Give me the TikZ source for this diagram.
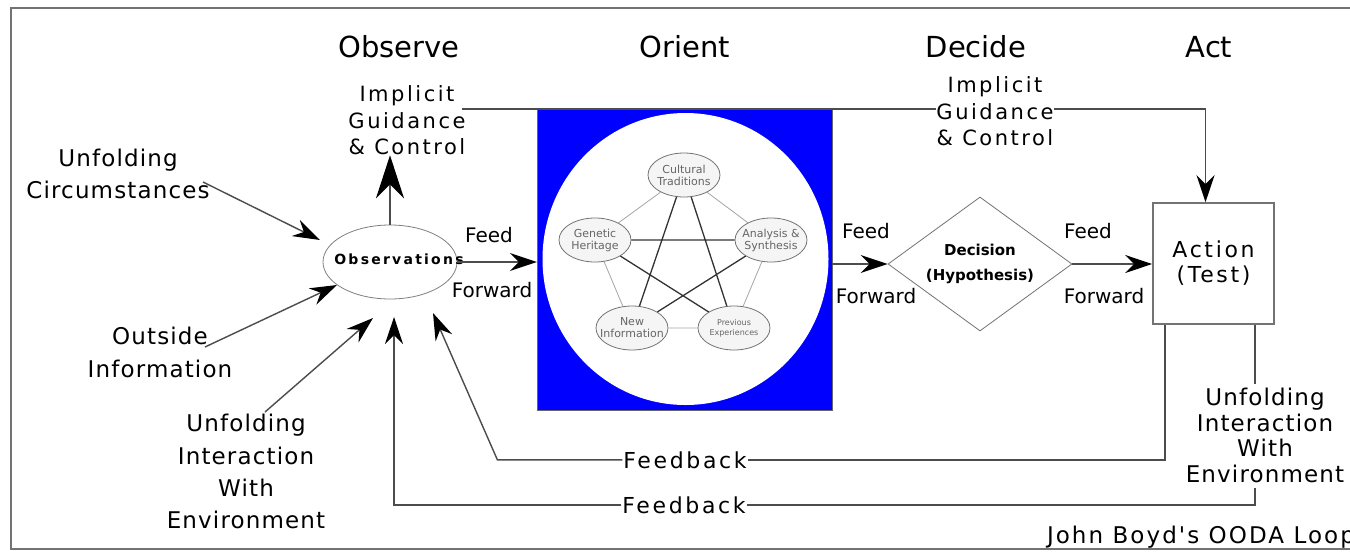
\documentclass[tikz,border=0pt]{standalone}
\usepackage{fontspec}
\setmainfont{DejaVu Sans}
\newfontfamily\wideA[LetterSpace=12]{DejaVu Sans}
\newfontfamily\wideB[LetterSpace=5]{DejaVu Sans}
\newfontfamily\wideC[LetterSpace=16]{DejaVu Sans}
\newfontfamily\wideD[LetterSpace=9]{DejaVu Sans}
\usetikzlibrary{arrows.meta,shapes.geometric,calc}

\begin{document}
\begin{tikzpicture}[x=1pt,y=-1pt,
  lbl/.style={inner sep=0pt, outer sep=0pt, align=center},
  head/.style={lbl, anchor=base, font=\fontsize{29}{34}\selectfont},
  ff/.style={lbl, anchor=base, font=\fontsize{20}{24}\selectfont},
  note/.style={lbl, anchor=north, font=\wideB\fontsize{23}{32}\selectfont},
  guide/.style={lbl, anchor=north, font=\wideA\fontsize{21}{26.5}\selectfont},
  fback/.style={lbl, inner xsep=1pt, anchor=base, font=\wideA\fontsize{22}{26}\selectfont},
  flow/.style={draw=black!70, line width=1.4pt},
  tip/.style={-{Stealth[length=27pt,width=18pt,inset=9pt,color=black]}},
  bigtip/.style={-{Stealth[length=43pt,width=28pt,inset=14pt,color=black]}},
  facet/.style={ellipse, draw=black!55, fill=black!4, line width=0.8pt,
    minimum width=72pt, minimum height=44pt, inner sep=0pt},
  facettext/.style={align=center, text=black!60, inner sep=0pt,
    font=\fontsize{11}{12}\selectfont},
  star/.style={draw=black!80, line width=1.3pt},
  rim/.style={draw=black!35, line width=0.8pt}
]
\useasboundingbox (0,0) rectangle (1350,552);
\fill[white] (0,0) rectangle (1350,552);
\draw[draw=black!55, line width=1.5pt] (11,8) rectangle (1365,549);

% phase headings
\node[head] (hObs) at (399,57) {Observe};
\node[head] (hOri) at (685,57) {Orient};
\node[head] (hDec) at (976,57) {Decide};
\node[head] (hAct) at (1209,57) {Act};

% Orient block
\node[draw=black!60, fill=blue, minimum width=295pt, minimum height=301pt,
  inner sep=0pt] (orient) at (684.5,259.5) {};
\node[ellipse, fill=white, minimum width=286pt, minimum height=292pt,
  inner sep=0pt] (disk) at (685.5,259) {};
\node[facet, label={[facettext]center:Cultural\\Traditions}] (ct) at (684,175) {};
\node[facet, label={[facettext]center:Genetic\\Heritage}] (gh) at (595,240) {};
\node[facet, label={[facettext]center:Analysis \&\\Synthesis}] (as) at (771,240) {};
\node[facet, label={[facettext]center:New\\Information}] (ni) at (632,328) {};
\node[facet, label={[facettext, font=\fontsize{8}{10}\selectfont]center:Previous\\Experiences}] (pe) at (734,328) {};
\draw[rim] (ct) -- (gh) (ct) -- (as) (gh) -- (ni) (as) -- (pe) (ni) -- (pe);
\draw[star] (ct) -- (ni) (ct) -- (pe) (gh) -- (as) (gh) -- (pe) (as) -- (ni);

% Observe
\node[ellipse, draw=black!50, line width=0.8pt, minimum width=134pt,
  minimum height=74pt, inner sep=0pt] (obs) at (390,262) {};
\node[lbl, font=\wideC\bfseries\fontsize{14}{16}\selectfont] (obsT) at (399,259) {Observations};

\node[guide] (igL) at (407,86) {Implicit\\Guidance\\\& Control};
\draw[flow, bigtip] (obs.north) -- (obs.north |- igL.south);

% Decide and Act
\node[diamond, draw=black!55, line width=0.8pt, aspect=1.373, minimum width=184pt,
  minimum height=134pt, inner sep=0pt, align=center,
  font=\bfseries\fontsize{15}{25}\selectfont] (dec) at (980,264) {Decision\\(Hypothesis)};
\node[draw=black!55, line width=1.6pt, minimum width=121pt, minimum height=121pt,
  inner sep=0pt, align=center, font=\wideA\fontsize{22}{25}\selectfont]
  (action) at (1213.5,263.5) {Action\\(Test)};

% implicit guidance line to Act
\coordinate (gStart) at (462,109);
\draw[flow, tip] (gStart) -| ([xshift=-8pt]action.north);
\node[guide, fill=white] (igR) at (995,77) {Implicit\\Guidance\\\& Control};

% feed forward
\node[ff] (feed1) at (489,242) {Feed};
\node[ff] (fwd1) at (492,297) {Forward};
\node[ff] (feed2) at (866,238) {Feed};
\node[ff] (fwd2) at (876,303) {Forward};
\node[ff] (feed3) at (1088,238) {Feed};
\node[ff] (fwd3) at (1104,303) {Forward};
\draw[flow, tip] (obs.east) -- (orient.west |- obs.east);
\draw[flow, tip] (orient.east |- dec.west) -- (dec.west);
\draw[flow, tip] (dec.east) -- (action.west |- dec.east);

% inputs to observations
\node[note] (ucT) at (118,149.5) {Unfolding\\Circumstances};
\node[note, font=\wideB\fontsize{23}{33}\selectfont] (oiT) at (160,327.5) {Outside\\Information};
\node[note, font=\wideB\fontsize{23}{32.3}\selectfont] (uieL) at (246,414.5) {Unfolding\\Interaction\\With\\Environment};
\coordinate (ucFrom) at (203,182);
\coordinate (ucTip) at (320,240);
\coordinate (oiFrom) at (205,347);
\coordinate (oiTip) at (337,285);
\coordinate (uiFrom) at (265,412);
\coordinate (uiTip) at (373,318);
\draw[flow, tip] (ucFrom) -- (ucTip);
\draw[flow, tip] (oiFrom) -- (oiTip);
\draw[flow, tip] (uiFrom) -- (uiTip);

% feedback loops
\node[fback] (fb1) at (685,468) {Feedback};
\node[fback] (fb2) at (684,513) {Feedback};
\node[note, font=\wideB\fontsize{23}{25.5}\selectfont] (uieR) at (1265,388.5) {Unfolding\\Interaction\\With\\Environment};
\coordinate (fbTip1) at (433,313);
\coordinate (fbTip2) at (394,317);
\draw[flow] ([xshift=-48.5pt]action.south) |- (fb1.east);
\draw[flow, tip] (fb1.west) -- ++(-125,0) -- (fbTip1);
\draw[flow] ([xshift=41.5pt]action.south) -- ($(uieR.north)+(-10,-5)$);
\draw[flow] ($(uieR.south)+(-10,5)$) |- (fb2.east);
\draw[flow, tip] (fb2.west) -| (fbTip2);

\node[lbl, anchor=base west, font=\wideD\fontsize{23}{26}\selectfont] (title) at (1047,543) {John Boyd's OODA Loop};
\end{tikzpicture}
\end{document}
